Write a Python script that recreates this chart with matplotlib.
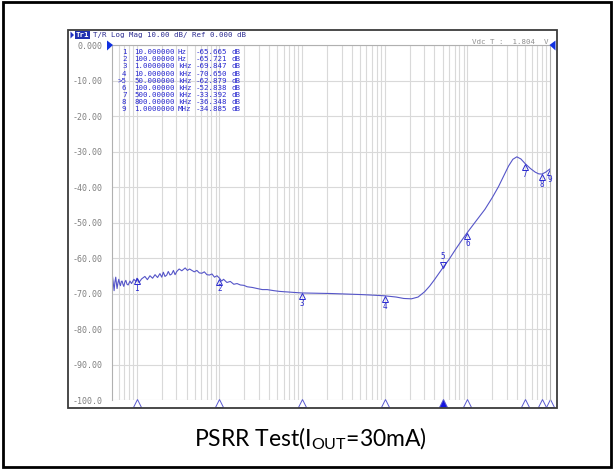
import matplotlib
matplotlib.use("Agg")
import matplotlib.pyplot as plt
from matplotlib.patches import Rectangle, Polygon
from matplotlib.ticker import FixedLocator, NullFormatter

# --- trace data ---
freq_hz = [5.0, 5.15, 5.3, 5.42, 5.55, 5.66, 5.76, 5.9, 6.04, 6.2, 6.33, 6.48, 6.62, 6.8,
           6.95, 7.15, 7.35, 7.6, 7.84, 8.25, 8.62, 9.2, 9.72,
           10.0, 10.6, 11.4, 12.5, 13.4, 14.4, 15.5, 16.6, 17.8, 19.0, 20.0, 20.9, 21.9, 23.0,
           24.0, 25.2, 26.4, 27.7, 29.0, 30.4, 32.5, 35.0, 38.4, 40.9, 43.5, 46.3, 49.5, 53.2,
           57.0, 61.2, 65.5, 70.4, 75.5, 81.1, 87.0, 93.3, 100, 106, 112, 123, 135, 149, 163,
           179, 197, 216, 250, 286, 330, 378, 455, 530, 603, 700, 797, 1000, 1300, 1683, 2200,
           2950, 3900, 5160, 7000, 10000, 13760, 17000, 21000, 25300, 30400, 35000, 40300,
           45000, 50000, 60000, 71800, 85000, 100000, 130000, 163000, 200000, 238000, 275000,
           315000, 355000, 397000, 444000, 500000, 580000, 661000, 730000, 800000, 890000,
           1000000]
psrr_db = [-64.1, -66.5, -69.2, -66.8, -65.4, -67.2, -68.6, -67.0, -66.0, -67.3, -67.8, -66.6,
           -66.5, -67.5, -68.0, -66.8, -66.3, -67.4, -67.6, -66.5, -67.2,
           -66.0, -66.6, -65.7, -66.9, -65.9, -65.2, -66.1, -65.0, -65.7, -64.7, -65.5, -64.4,
           -65.4, -64.0, -65.2, -64.8, -63.8, -64.8, -64.5, -63.5, -64.7, -63.8, -63.1, -63.6,
           -62.8, -63.5, -63.1, -63.5, -63.9, -63.5, -64.2, -64.3, -63.9, -64.7, -64.8, -64.5,
           -65.4, -65.0, -65.7, -66.5, -66.0, -66.9, -66.6, -67.4, -67.2, -67.6, -67.7, -68.1,
           -68.3, -68.6, -68.9, -68.9, -69.2, -69.4, -69.5, -69.6, -69.7, -69.85, -69.9,
           -69.95, -70.0, -70.1, -70.2, -70.3, -70.45, -70.65, -71.0, -71.4, -71.5, -71.0,
           -69.5, -67.9, -66.0, -64.4, -62.9, -60.4, -57.6, -55.1, -52.8, -49.3, -46.3, -43.0,
           -39.9, -36.9, -34.1, -32.2, -31.5, -32.1, -33.4, -34.8, -35.8, -36.3, -36.35, -35.8,
           -34.9]

# marker table
marker_ids = [1, 2, 3, 4, 5, 6, 7, 8, 9]
marker_freq_hz = [10, 100, 1e3, 10e3, 50e3, 100e3, 500e3, 800e3, 1e6]
marker_freq_txt = ["10.000000", "100.00000", "1.0000000", "10.000000", "50.000000",
                   "100.00000", "500.00000", "800.00000", "1.0000000"]
marker_unit = ["Hz", "Hz", "kHz", "kHz", "kHz", "kHz", "kHz", "kHz", "MHz"]
marker_db = [-65.665, -65.721, -69.847, -70.650, -62.879, -52.838, -33.392, -36.348, -34.885]
active_marker = 5

y_ticks = [0, -10, -20, -30, -40, -50, -60, -70, -80, -90, -100]
y_tick_labels = ["0.000", "-10.00", "-20.00", "-30.00", "-40.00", "-50.00", "-60.00",
                 "-70.00", "-80.00", "-90.00", "-100.0"]

W, H = 614, 469
TRACE = "#5555c8"
MARK = "#2a2ad0"
GRID = "#d9d9d9"
MONO = "DejaVu Sans Mono"


def fx(x):
    return x / W


def fy(y):
    return 1 - y / H


fig = plt.figure(figsize=(W / 100, H / 100), dpi=100)
fig.patch.set_facecolor("white")

# outer frame and analyser screen box
fig.add_artist(Rectangle((fx(3), fy(467)), fx(608), 465 / H, transform=fig.transFigure,
                         fill=False, ec="black", lw=2))
fig.add_artist(Rectangle((fx(68), fy(408)), fx(489), 378 / H, transform=fig.transFigure,
                         fill=False, ec="#3c3c3c", lw=1.3))

ax = fig.add_axes([fx(112), fy(400), fx(438), 355 / H])
ax.set_xscale("log")
ax.set_xlim(5, 1e6)
ax.set_ylim(-100, 0)

minor = [m * 10 ** e for e in range(0, 7) for m in range(1, 10) if 5 < m * 10 ** e < 1e6]
ax.xaxis.set_major_locator(FixedLocator(minor))
ax.xaxis.set_minor_locator(FixedLocator([]))
ax.xaxis.set_major_formatter(NullFormatter())
ax.set_yticks(y_ticks)
ax.set_yticklabels(y_tick_labels, fontsize=6.0, family=MONO, color="#808080")
ax.tick_params(axis="both", length=0)
ax.tick_params(axis="y", pad=7)
ax.grid(True, color=GRID, lw=0.8)
for s in ax.spines.values():
    s.set_color("#b0b0b0")
    s.set_linewidth(0.8)
ax.spines["bottom"].set_visible(False)

ax.plot(freq_hz, psrr_db, color=TRACE, lw=0.8)

# markers on trace
for mid, f, v in zip(marker_ids, marker_freq_hz, marker_db):
    if mid == active_marker:
        ax.plot(f, v + 0.9, marker="v", ms=4.5, mfc="none", mec=MARK, mew=0.7)
        ax.text(f, v + 3.2, str(mid), ha="center", va="center", fontsize=5.5,
                family=MONO, color=MARK)
    else:
        ax.plot(f, v - 0.9, marker="^", ms=4.5, mfc="none", mec=MARK, mew=0.7)
        ax.text(f, v - 3.0, str(mid), ha="center", va="center", fontsize=5.5,
                family=MONO, color=MARK)

# marker triangles along the bottom edge
for mid, f in zip(marker_ids, marker_freq_hz):
    filled = mid == active_marker
    ax.plot(f, -100.9, marker="^", ms=6, clip_on=False,
            mfc="#1414e0" if filled else "white", mec="#5a5ad0", mew=0.7)

# reference level arrows
fig.add_artist(Polygon([(fx(107), fy(40.5)), (fx(113), fy(45)), (fx(107), fy(50.5))],
                       closed=True, transform=fig.transFigure, fc="#1030e0", ec="none"))
fig.add_artist(Polygon([(fx(555.5), fy(40.5)), (fx(549.5), fy(45)), (fx(555.5), fy(50.5))],
                       closed=True, transform=fig.transFigure, fc="#1030e0", ec="none"))

# header line
fig.add_artist(Polygon([(fx(70.5), fy(31.5)), (fx(74), fy(35)), (fx(70.5), fy(38.5))],
                       closed=True, transform=fig.transFigure, fc="#2030c0", ec="none"))
fig.text(fx(82.5), fy(35), "Tr1", ha="center", va="center", fontsize=5.3, family=MONO,
         color="white", weight="bold",
         bbox=dict(boxstyle="square,pad=0.12", fc="#2030b0", ec="none"))
fig.text(fx(93), fy(35), "T/R Log Mag 10.00 dB/ Ref 0.000 dB", ha="left", va="center",
         fontsize=5.3, family=MONO, color="#2a2a90")
fig.text(fx(548), fy(42.5), "Vdc T :  1.804  V", ha="right", va="center",
         fontsize=5.4, family=MONO, color="#909090")

# marker readout table
for i, mid in enumerate(marker_ids):
    yy = fy(52.3 + i * 7.09)
    tag = (">" if mid == active_marker else "") + str(mid)
    fig.text(fx(126.5), yy, tag, ha="right", va="center", fontsize=5.4, family=MONO,
             color=MARK)
    fig.text(fx(134.3), yy, marker_freq_txt[i], ha="left", va="center", fontsize=5.4,
             family=MONO, color=MARK)
    fig.text(fx(178), yy, marker_unit[i], ha="left", va="center", fontsize=5.4,
             family=MONO, color=MARK)
    fig.text(fx(196), yy, f"{marker_db[i]:.3f}", ha="left", va="center", fontsize=5.4,
             family=MONO, color=MARK)
    fig.text(fx(231), yy, "dB", ha="left", va="center", fontsize=5.4, family=MONO,
             color=MARK)

# caption
fig.text(fx(310), fy(439), r"PSRR Test(I$_\mathregular{OUT}$=30mA)", ha="center",
         va="center", fontsize=16.5, family="Lato", color="black")

fig.savefig("out.png", dpi=100)
